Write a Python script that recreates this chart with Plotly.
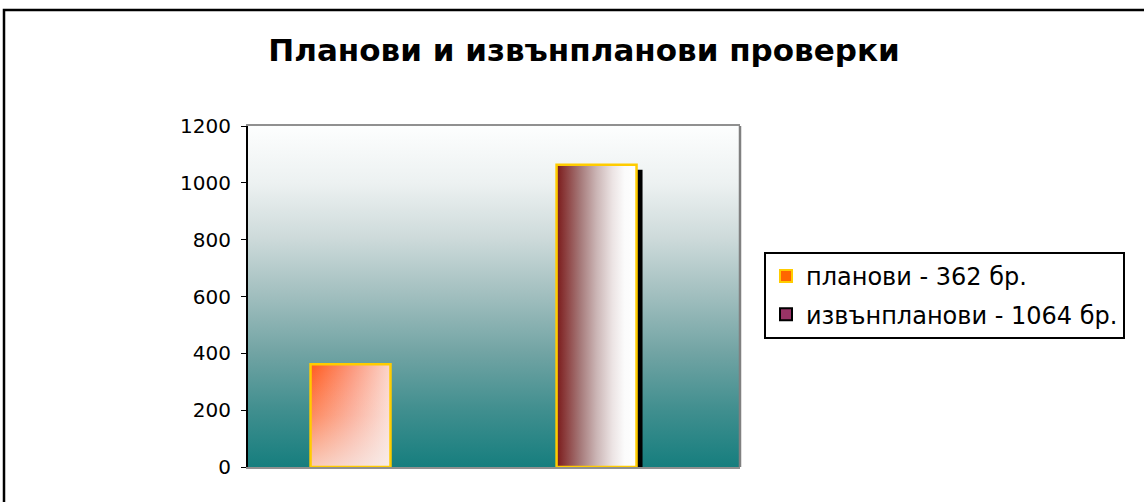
import plotly.graph_objects as go

# ---- data ----
categories = ["планови", "извънпланови"]
values = [362, 1064]
legend_labels = ["планови - 362 бр.", "извънпланови - 1064 бр."]
legend_colors = ["#ff6600", "#993366"]
legend_edges = ["#ffcc00", "#000000"]
y_ticks = [0, 200, 400, 600, 800, 1000, 1200]
title_text = "Планови и извънпланови проверки"

# ---- geometry / style ----
W, H = 1144, 502
L, R, T, B = 248, 740, 126, 467
bar_w = 0.325
x_pos = list(range(len(categories)))
x_rng = [-0.4167, 1.583]
y_rng = [0, 1200]
GOLD = "#ffcc00"


def px_x(p):
    return (p - L) / (R - L)


def px_y(p):
    return (B - p) / (B - T)


def rect(xc, v, dx=0.0, dy=0.0):
    x0, x1 = xc - bar_w / 2 + dx, xc + bar_w / 2 + dx
    return [x0, x1, x1, x0, x0], [0 - dy, 0 - dy, v - dy, v - dy, 0 - dy]


fig = go.Figure()

# legend carriers (hidden under the gradient fills)
for i, (lab, c, e) in enumerate(zip(legend_labels, legend_colors, legend_edges)):
    fig.add_trace(go.Bar(
        x=[x_pos[i]], y=[values[i]], width=bar_w, name=lab,
        marker=dict(color=c, line=dict(color=e, width=2)),
        legendgroup=f"g{i}", hoverinfo="skip"))

# plot-area background gradient
fig.add_trace(go.Scatter(
    x=[x_rng[0], x_rng[1], x_rng[1], x_rng[0], x_rng[0]],
    y=[y_rng[0], y_rng[0], y_rng[1], y_rng[1], y_rng[0]],
    mode="lines", line=dict(width=0), fill="toself",
    fillgradient=dict(type="vertical", colorscale=[
        [0.0, "rgb(22,126,126)"], [0.17, "rgb(65,143,143)"],
        [0.33, "rgb(112,163,163)"], [0.5, "rgb(160,190,190)"],
        [0.67, "rgb(205,218,218)"], [0.83, "rgb(236,241,241)"],
        [1.0, "rgb(253,254,254)"]]),
    showlegend=False, hoverinfo="skip"))

# bar 1: diagonal orange -> white (horizontal base + vertical wash)
xs, ys = rect(x_pos[0], values[0])
fig.add_trace(go.Scatter(
    x=xs, y=ys, mode="lines", line=dict(width=0), fill="toself",
    fillgradient=dict(type="horizontal", colorscale=[
        [0.0, "#ff5a1e"], [0.5, "#fc9478"], [1.0, "#fbd6cc"]]),
    showlegend=False, hoverinfo="skip"))
fig.add_trace(go.Scatter(
    x=xs, y=ys, mode="lines", line=dict(width=2.5, color=GOLD), fill="toself",
    fillgradient=dict(type="vertical", colorscale=[
        [0.0, "rgba(246,246,246,0.72)"], [0.5, "rgba(248,248,248,0.3)"],
        [1.0, "rgba(255,255,255,0)"]]),
    showlegend=False, hoverinfo="skip"))

# bar 2: shadow + horizontal maroon -> white
xs, ys = rect(x_pos[1], values[1], dx=6 / 246, dy=5 / 0.2842)
fig.add_trace(go.Scatter(
    x=xs, y=ys, mode="lines", line=dict(width=0), fill="toself",
    fillcolor="#000000", showlegend=False, hoverinfo="skip"))
xs, ys = rect(x_pos[1], values[1])
fig.add_trace(go.Scatter(
    x=xs, y=ys, mode="lines", line=dict(width=2.5, color=GOLD), fill="toself",
    fillgradient=dict(type="horizontal", colorscale=[
        [0.0, "#7a1a1a"], [0.1, "#8a3a3a"], [0.3, "#a67a7a"],
        [0.5, "#cbb5b5"], [0.7, "#ece4e4"], [0.85, "#fbfbfb"],
        [1.0, "#ffffff"]]),
    showlegend=False, hoverinfo="skip"))

fig.update_layout(
    width=W, height=H,
    margin=dict(l=L, r=W - R, t=T, b=H - B, autoexpand=False),
    paper_bgcolor="white", plot_bgcolor="white",
    barmode="overlay",
    title=dict(text=title_text, x=584 / W, xanchor="center",
               y=1 - 50 / H, yanchor="middle", yref="container",
               font=dict(family="DejaVu Sans", size=31, color="black",
                         weight="bold")),
    font=dict(family="DejaVu Sans", color="black"),
    legend=dict(x=px_x(764), y=px_y(252), xanchor="left", yanchor="top",
                bordercolor="black", borderwidth=2, bgcolor="white",
                font=dict(family="DejaVu Sans", size=24, color="black"),
                traceorder="grouped", tracegroupgap=4, itemwidth=30),
    xaxis=dict(range=x_rng, showticklabels=False, showgrid=False,
               zeroline=False, showline=True, linecolor="#909090",
               linewidth=2, mirror=True, ticks=""),
    yaxis=dict(range=y_rng, tickvals=y_ticks, showgrid=False, zeroline=False,
               showline=True, linecolor="black", linewidth=2,
               ticks="outside", ticklen=5, tickcolor="black", tickwidth=1,
               ticklabelstandoff=6,
               tickfont=dict(family="DejaVu Sans", size=20, color="black")),
    shapes=[
        dict(type="line", xref="x domain", yref="y domain", x0=1, x1=1,
             y0=0, y1=1, line=dict(color="#808080", width=2.5)),
        dict(type="rect", xref="paper", yref="paper",
             x0=px_x(4), x1=px_x(1152), y0=px_y(10), y1=px_y(512),
             line=dict(color="black", width=2.5), fillcolor="rgba(0,0,0,0)"),
    ],
)

fig.write_html("out.html",
               config={"displayModeBar": False},
               post_script="document.body.style.margin='0';"
                           "document.body.style.overflow='hidden';")
